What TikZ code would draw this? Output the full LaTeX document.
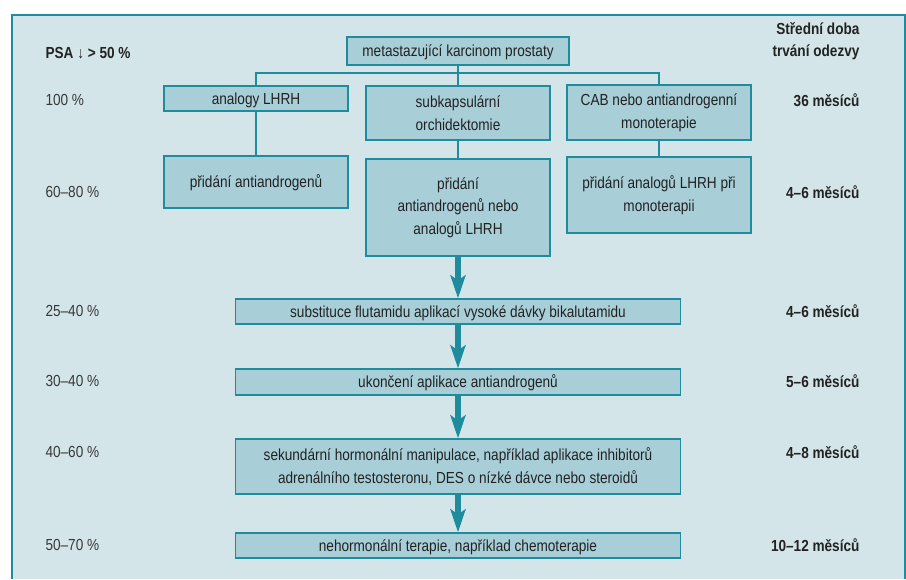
\documentclass[tikz,border=0pt]{standalone}
\usepackage{fontspec}
\setmainfont{Liberation Sans}[FakeStretch=0.85]
\usetikzlibrary{arrows.meta, positioning}

\definecolor{bgblue}{HTML}{D4E5EA}
\definecolor{boxblue}{HTML}{A8CED8}
\definecolor{teal}{HTML}{1E8C9C}
\definecolor{ink}{HTML}{222222}

\begin{document}
\begin{tikzpicture}[x=1pt, y=-1pt, font=\fontsize{16pt}{22.7pt}\selectfont, text=ink]
  \tikzset{
    box/.style={
      rectangle,
      draw=teal,
      fill=boxblue,
      line width=1.2pt,
      inner sep=0pt,
      align=center,
      text centered},
    line/.style={
      rectangle,
      draw=teal,
      fill=boxblue,
      line width=1.2pt,
      inner sep=0pt,
      text height=12.5pt,
      text depth=1.5pt},
    blank/.style={
      anchor=west,
      text=ink!90},
    dur/.style={
      anchor=east,
      font=\fontsize{16pt}{22pt}\selectfont\bfseries},
    conn/.style={
      draw=teal,
      line width=2.4pt},
    arr/.style={
      draw=teal,
      line width=6pt,
      -{Stealth[length=23pt, width=15pt, inset=5pt]}}}

  \useasboundingbox (0,0) rectangle (906,579);
  \fill[bgblue] (12,15) rectangle (906,579);
  \draw[teal, line width=1.5pt] (12,579) |- (905,15) -- (905,579);

  % boxes of the tree
  \node[line, minimum width=222pt, minimum height=28pt] (mk) at (458,51) {metastazující karcinom prostaty};

  \node[line, minimum width=184pt, minimum height=25pt] (lh1) at (256,98.5) {analogy LHRH};
  \node[box, minimum width=184pt, minimum height=54pt] (or1) at (458,113) {subkapsulární\\orchidektomie};
  \node[box, minimum width=184pt, minimum height=55pt] (cab1) at (659,112.5) {CAB nebo antiandrogenní\\monoterapie};

  \node[line, minimum width=184pt, minimum height=52pt] (lh2) at (256,182) {přidání antiandrogenů};
  \node[box, minimum width=184pt, minimum height=97pt] (or2) at (458,207.5) {přidání\\antiandrogenů nebo\\analogů LHRH};
  \node[box, minimum width=184pt, minimum height=76pt] (cab2) at (659,195) {přidání analogů LHRH při\\monoterapii};

  \node[line, minimum width=445pt, minimum height=25pt] (st1) at (458,311.5) {substituce flutamidu aplikací vysoké dávky bikalutamidu};
  \node[line, minimum width=445pt, minimum height=26pt] (st2) at (458,382) {ukončení aplikace antiandrogenů};
  \node[box, minimum width=445pt, minimum height=55pt] (st3) at (458,466.5) {sekundární hormonální manipulace, například aplikace inhibitorů\\adrenálního testosteronu, DES o nízké dávce nebo steroidů};
  \node[line, minimum width=445pt, minimum height=25pt] (st4) at (458,545.5) {nehormonální terapie, například chemoterapie};

  % PSA column
  \node[blank, font=\fontsize{16pt}{22pt}\selectfont\bfseries, text=ink] (psa) at (42,53) {PSA ↓ > 50 \%};
  \node[blank] (p1) at (42,100) {100 \%};
  \node[blank] (p2) at (42,192) {60–80 \%};
  \node[blank] (p3) at (42,311) {25–40 \%};
  \node[blank] (p4) at (42,381) {30–40 \%};
  \node[blank] (p5) at (42,452) {40–60 \%};
  \node[blank] (p6) at (42,545) {50–70 \%};

  % response column
  \node[dur, align=right] (head) at (863,41) {Střední doba\\trvání odezvy};
  \node[dur] (d1) at (863,100) {36 měsíců};
  \node[dur] (d2) at (863,192) {4–6 měsíců};
  \node[dur] (d3) at (863,311) {4–6 měsíců};
  \node[dur] (d4) at (863,381) {5–6 měsíců};
  \node[dur] (d5) at (863,452) {4–8 měsíců};
  \node[dur] (d6) at (863,545) {10–12 měsíců};

  % branches
  \coordinate (bus) at (659,73);
  \draw[conn] (lh1.north) |- (bus) -- (cab1.north);
  \draw[conn] (mk.south) -- (or1.north);
  \path[conn] (lh1) edge (lh2);
  \path[conn] (or1) edge (or2);
  \path[conn] (cab1) edge (cab2);

  % sequence
  \path[arr] (or2) edge (st1);
  \path[arr] (st1) edge (st2);
  \path[arr] (st2) edge (st3);
  \path[arr] (st3) edge (st4);

\end{tikzpicture}
\end{document}
